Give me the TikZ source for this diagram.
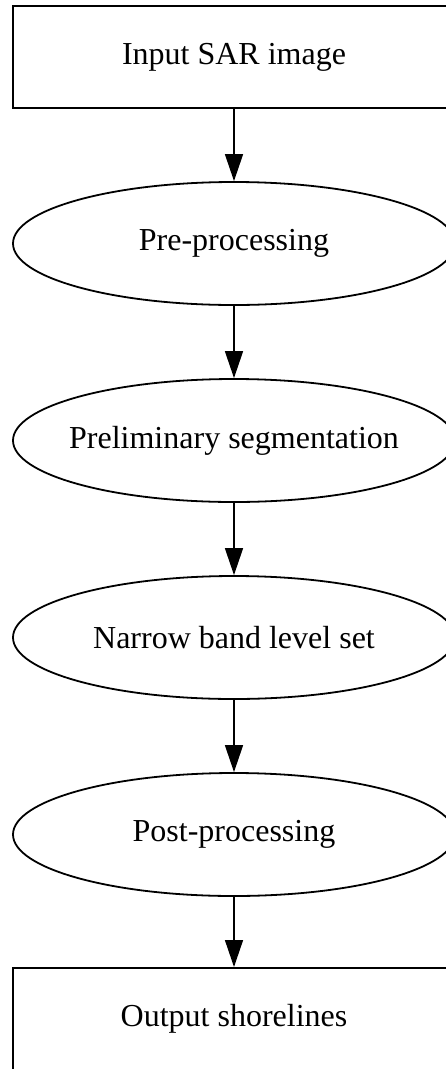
\documentclass[tikz,border=0pt]{standalone}
\usepackage{fontspec}
\setmainfont{Liberation Serif}
\usetikzlibrary{arrows.meta,shapes.geometric}
\newcommand{\ctext}[1]{\makebox[0pt]{#1}}
\begin{document}
\begin{tikzpicture}[x=1pt,y=-1pt,
  every node/.style={font=\fontsize{32}{36}\selectfont, inner sep=0pt},
  boxnode/.style={draw, line width=2pt, rectangle, minimum width=442pt, minimum height=102pt},
  ellnode/.style={draw, line width=1.8pt, ellipse, minimum width=442pt, minimum height=123pt},
  flow/.style={line width=1.5pt, -{Triangle[length=27pt,width=18pt]}}]
\useasboundingbox[fill=white] (0,0) rectangle (445,1069);
\node[boxnode] (inp) at (234,57) {Input SAR image};
\node[ellnode] (pre) at (234,243.5) {\ctext{Pre-processing}};
\node[ellnode] (seg) at (234,440.5) {\ctext{Preliminary segmentation}};
\node[ellnode] (nb) at (234,637.5) {\ctext{Narrow band level set}};
\node[ellnode] (post) at (234,834.5) {\ctext{Post-processing}};
\node[boxnode] (out) at (234,1019) {Output shorelines};
\draw[flow] (inp) -- (pre);
\draw[flow] (pre) -- (seg);
\draw[flow] (seg) -- (nb);
\draw[flow] (nb) -- (post);
\draw[flow] (post) -- (out);
\end{tikzpicture}
\end{document}
